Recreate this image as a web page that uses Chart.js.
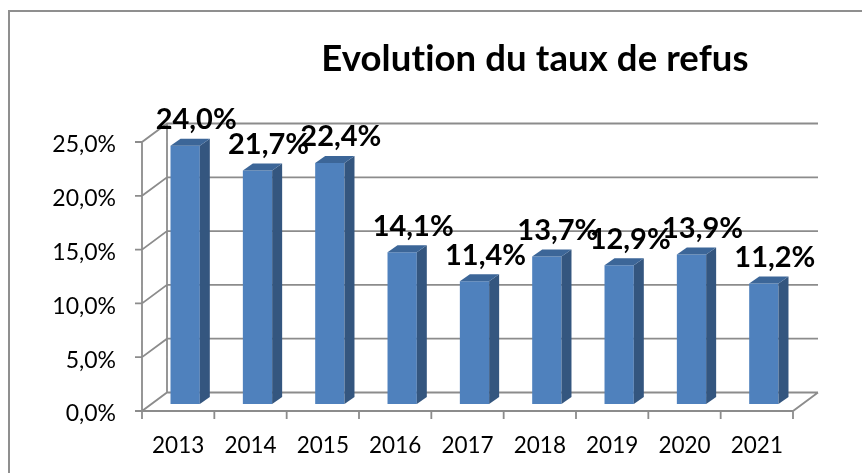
<!DOCTYPE html>
<html>
<head>
<meta charset="utf-8">
<script src="https://cdn.jsdelivr.net/npm/chart.js@4.4.1/dist/chart.umd.min.js"></script>
<style>
  html, body { margin: 0; padding: 0; background: #ffffff; }
  #cadre { width: 862px; height: 473px; position: relative; }
</style>
</head>
<body>
<div id="cadre"><canvas id="graphique"></canvas></div>
<script>
// Données du graphique
const titre = 'Evolution du taux de refus';
const annees = ['2013', '2014', '2015', '2016', '2017', '2018', '2019', '2020', '2021'];
const tauxRefus = [24.0, 21.7, 22.4, 14.1, 11.4, 13.7, 12.9, 13.9, 11.2];
const graduations = [0, 5, 10, 15, 20, 25];

// Effet 3D (décalages en pixels)
const PROFONDEUR = { dx: 25, dy: -18.5 };   // mur du fond
const DECALAGE_BARRE = { dx: 7, dy: -7 };    // plan avant des barres
const EPAISSEUR_BARRE = { dx: 10, dy: -7 };  // côté et dessus des barres

const COULEUR_GRILLE = '#8c8c8c';
const COULEUR_FACE = '#4f81bd';
const COULEUR_COTE = '#34567f';
const COULEUR_DESSUS = '#3c6698';

const formaterPourcent = (v) => v.toFixed(1).replace('.', ',') + '%';

// Cadre + titre
const pluginCadre = {
    id: 'cadre',
    beforeDraw(chart) {
        const ctx = chart.ctx;
        ctx.save();
        ctx.strokeStyle = '#8f8f8f';
        ctx.lineWidth = 2;
        ctx.strokeRect(9, 11, chart.width + 20, chart.height + 20);
        ctx.fillStyle = '#000';
        ctx.font = 'bold 36.5px Lato';
        ctx.letterSpacing = '0.1px'; // évite la ligature "ti"
        ctx.textAlign = 'center';
        ctx.textBaseline = 'middle';
        ctx.fillText(titre, 535, 59);
        ctx.restore();
    }
};

// Murs, sol et grille en perspective
const pluginGrille3D = {
    id: 'grille3D',
    beforeDatasetsDraw(chart) {
        const ctx = chart.ctx;
        const { left, right, top, bottom } = chart.chartArea;
        const y = chart.scales.y;
        const x = chart.scales.x;
        const pas = x.getPixelForValue(1) - x.getPixelForValue(0);

        ctx.save();
        ctx.strokeStyle = COULEUR_GRILLE;
        ctx.lineWidth = 1.8;
        ctx.beginPath();
        graduations.forEach(v => {
            const yf = y.getPixelForValue(v);
            // graduation à gauche
            ctx.moveTo(left - 7, yf);
            ctx.lineTo(left, yf);
            // ligne oblique sur le mur latéral
            ctx.lineTo(left + PROFONDEUR.dx, yf + PROFONDEUR.dy);
            // ligne sur le mur du fond
            ctx.lineTo(right + PROFONDEUR.dx, yf + PROFONDEUR.dy);
        });
        // arête du fond à gauche
        ctx.moveTo(left + PROFONDEUR.dx, top + PROFONDEUR.dy);
        ctx.lineTo(left + PROFONDEUR.dx, bottom + PROFONDEUR.dy);
        // axe vertical avant
        ctx.moveTo(left, top);
        ctx.lineTo(left, bottom);
        // sol : bord avant et bord droit
        ctx.moveTo(left, bottom);
        ctx.lineTo(right, bottom);
        ctx.lineTo(right + PROFONDEUR.dx, bottom + PROFONDEUR.dy);
        // graduations de l'axe horizontal
        for (let i = 0; i <= annees.length; i++) {
            const xi = x.getPixelForValue(0) - pas / 2 + i * pas;
            ctx.moveTo(xi, bottom);
            ctx.lineTo(xi, bottom + 8);
        }
        ctx.stroke();
        ctx.restore();

        // les barres avant sont poussées vers le fond
        ctx.save();
        ctx.translate(DECALAGE_BARRE.dx, DECALAGE_BARRE.dy);
    },
    afterDatasetsDraw(chart) {
        const ctx = chart.ctx;
        ctx.restore();

        const meta = chart.getDatasetMeta(0);
        ctx.save();
        meta.data.forEach((barre, i) => {
            const xg = barre.x - barre.width / 2 + DECALAGE_BARRE.dx;
            const xd = barre.x + barre.width / 2 + DECALAGE_BARRE.dx;
            const yh = barre.y + DECALAGE_BARRE.dy;
            const yb = barre.base + DECALAGE_BARRE.dy;
            const ex = EPAISSEUR_BARRE.dx, ey = EPAISSEUR_BARRE.dy;

            // côté droit
            ctx.fillStyle = COULEUR_COTE;
            ctx.beginPath();
            ctx.moveTo(xd, yh);
            ctx.lineTo(xd + ex, yh + ey);
            ctx.lineTo(xd + ex, yb + ey);
            ctx.lineTo(xd, yb);
            ctx.closePath();
            ctx.fill();

            // dessus
            ctx.fillStyle = COULEUR_DESSUS;
            ctx.beginPath();
            ctx.moveTo(xg, yh);
            ctx.lineTo(xg + ex, yh + ey);
            ctx.lineTo(xd + ex, yh + ey);
            ctx.lineTo(xd, yh);
            ctx.closePath();
            ctx.fill();

            // étiquette de valeur
            ctx.fillStyle = '#000';
            ctx.font = 'bold 29px Lato';
            ctx.textAlign = 'center';
            ctx.textBaseline = 'middle';
            ctx.fillText(formaterPourcent(tauxRefus[i]), barre.x + 18, barre.y - 33);
        });
        ctx.restore();
    }
};

new Chart(document.getElementById('graphique'), {
    type: 'bar',
    data: {
        labels: annees,
        datasets: [{
            data: tauxRefus,
            backgroundColor: COULEUR_FACE,
            borderWidth: 0,
            categoryPercentage: 1,
            barPercentage: 0.405
        }]
    },
    options: {
        responsive: true,
        maintainAspectRatio: false,
        animation: false,
        layout: { padding: { left: 0, top: 142, right: 69, bottom: 0 } },
        plugins: {
            legend: { display: false },
            tooltip: { enabled: false }
        },
        scales: {
            x: {
                grid: { display: false, drawTicks: false },
                border: { display: false },
                ticks: {
                    color: '#000',
                    font: { family: 'Lato', size: 22.5 },
                    padding: 21,
                    maxRotation: 0
                },
                afterFit: (s) => { s.height = 62; }
            },
            y: {
                min: 0,
                max: 25,
                grid: { display: false, drawTicks: false },
                border: { display: false },
                ticks: {
                    stepSize: 5,
                    color: '#000',
                    font: { family: 'Lato', size: 23 },
                    padding: 26,
                    labelOffset: 3,
                    callback: (v) => formaterPourcent(v)
                },
                afterFit: (s) => { s.width = 142; }
            }
        }
    },
    plugins: [pluginCadre, pluginGrille3D]
});
</script>
</body>
</html>
